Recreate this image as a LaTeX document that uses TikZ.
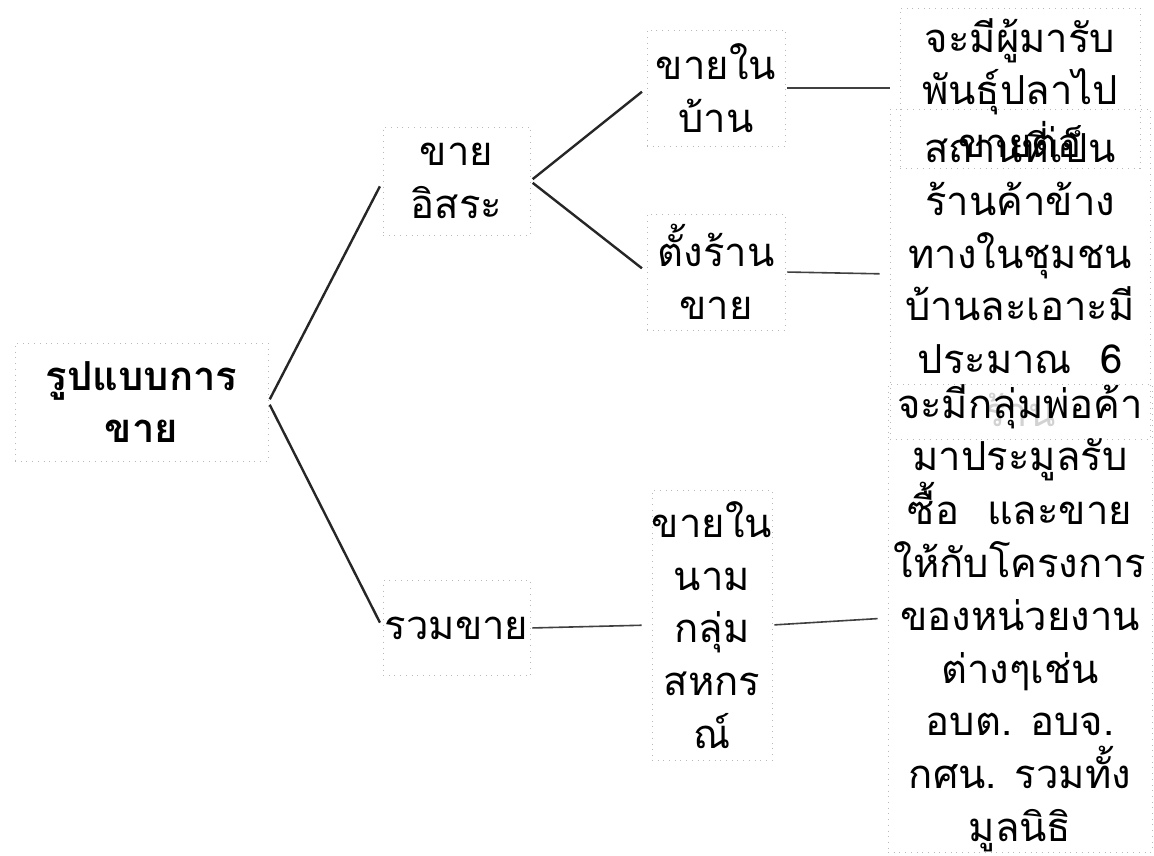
\documentclass[tikz,border=0pt]{standalone}
\usepackage{fontspec}
\setmainfont[Script=Thai]{Loma}
\begin{document}
\begin{tikzpicture}[x=1pt,y=-1pt,
  box/.style={draw=gray!55, line width=0.7pt, dash pattern=on 0.7pt off 5pt,
    align=center, inner sep=0pt, font=\fontsize{40}{52.8}\selectfont},
  forkline/.style={draw=black!85, line width=2.4pt, shorten <=3pt, shorten >=6pt},
  linkline/.style={draw=black!75, line width=1.6pt, shorten <=2pt, shorten >=10pt}]
\useasboundingbox[fill=white] (0,0) rectangle (1154,856);
% boxes and texts
\node[box, minimum width=253, minimum height=118,
  font=\fontsize{40}{52.8}\selectfont\bfseries] (root) at (141.5,402) {รูปแบบการ\\ขาย};
\node[box, minimum width=147, minimum height=108] (free) at (456.5,181) {ขาย\\อิสระ};
\node[box, minimum width=147, minimum height=95] (sum) at (456.5,628) {รวมขาย};
\node[box, minimum width=138, minimum height=116] (home) at (716,88) {ขายใน\\บ้าน};
\node[box, minimum width=138, minimum height=116] (shop) at (716,272) {ตั้งร้าน\\ขาย};
\node[box, minimum width=120, minimum height=270] (group) at (712,625) {ขายใน\\นาม\\กลุ่ม\\สหกร\\ณ์};
\node[box, minimum width=240, minimum height=160] (ca) at (1020,88)
  {จะมีผู้มารับ\\พันธุ์ปลาไป\\ขายต่อ};
\node[box, minimum width=260, minimum height=330] (cb) at (1020,274)
  {สถานที่เป็น\\ร้านค้าข้าง\\ทางในชุมชน\\บ้านละเอาะมี\\ประมาณ\hspace{0.7em}6\\\textcolor{gray!35}{ร้าน}};
\node[box, minimum width=264, minimum height=460] (cc) at (1020,618)
  {จะมีกลุ่มพ่อค้า\\มาประมูลรับ\\ซื้อ\hspace{0.7em}และขาย\\ให้กับโครงการ\\ของหน่วยงาน\\ต่างๆเช่น\\อบต. อบจ.\\กศน. รวมทั้ง\\มูลนิธิ};
% connectors
\draw[forkline] (root.east) -- (free.west);
\draw[forkline] (root.east) -- (sum.west);
\draw[forkline] (free.east) -- (home.west);
\draw[forkline] (free.east) -- (shop.west);
\draw[linkline] (home.east) -- (ca.west);
\draw[linkline] (shop.east) -- (cb.west);
\draw[linkline] (sum.east) -- (group.west);
\draw[linkline] (group.east) -- (cc.west);
\end{tikzpicture}
\end{document}
